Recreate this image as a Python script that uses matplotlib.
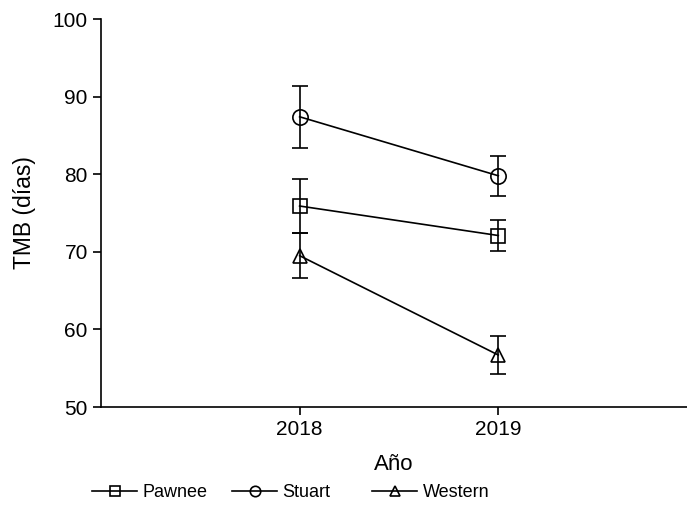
import matplotlib.pyplot as plt
from matplotlib.lines import Line2D

plt.rcParams['font.family'] = ['Liberation Sans', 'DejaVu Sans']

years = [2018, 2019]
series = ['Pawnee', 'Stuart', 'Western']
markers = ['s', 'o', '^']
pawnee = [75.9, 72.1]
pawnee_err = [3.5, 2.0]
stuart = [87.4, 79.8]
stuart_err = [4.0, 2.6]
western = [69.5, 56.7]
western_err = [2.9, 2.4]

means = [pawnee, stuart, western]
errs = [pawnee_err, stuart_err, western_err]

fig = plt.figure(figsize=(6.87, 5.15), dpi=100)
ax = fig.add_axes([0.147, 0.2097, 0.853, 0.7534])

for name, m, y, e in zip(series, markers, means, errs):
    ax.errorbar(years, y, yerr=e, color='black', lw=1.2, marker=m,
                markersize=10 if m != 'o' else 11, mfc='none', mec='black', mew=1.2,
                capsize=5.5, capthick=1.2, elinewidth=1.2, label=name)

ax.set_xlim(2017.0, 2019.95)
ax.set_ylim(50, 100)
ax.set_xticks(years)
ax.set_yticks(range(50, 101, 10))
ax.spines['top'].set_visible(False)
ax.spines['right'].set_visible(False)
ax.spines['left'].set_linewidth(1.2)
ax.spines['bottom'].set_linewidth(1.2)
ax.tick_params(direction='out', length=5.5, width=1.2, labelsize=15, pad=4)
ax.set_xlabel('Año', fontsize=16, labelpad=11)
ax.set_ylabel('TMB (días)', fontsize=16.5, labelpad=12)

# legend entries sit at a fixed spacing, so one legend per entry
legend_x = [92, 232, 372]
for name, m, x0 in zip(series, markers, legend_x):
    h = Line2D([], [], color='black', lw=1.2, marker=m, markersize=7.5,
               mfc='none', mec='black', mew=1.2)
    fig.legend([h], [name], loc='center left', bbox_to_anchor=(x0 / 687, 0.043),
               frameon=False, fontsize=13, handlelength=2.5, handletextpad=0.3,
               borderpad=0, borderaxespad=0)

fig.savefig('out.png', dpi=100)
